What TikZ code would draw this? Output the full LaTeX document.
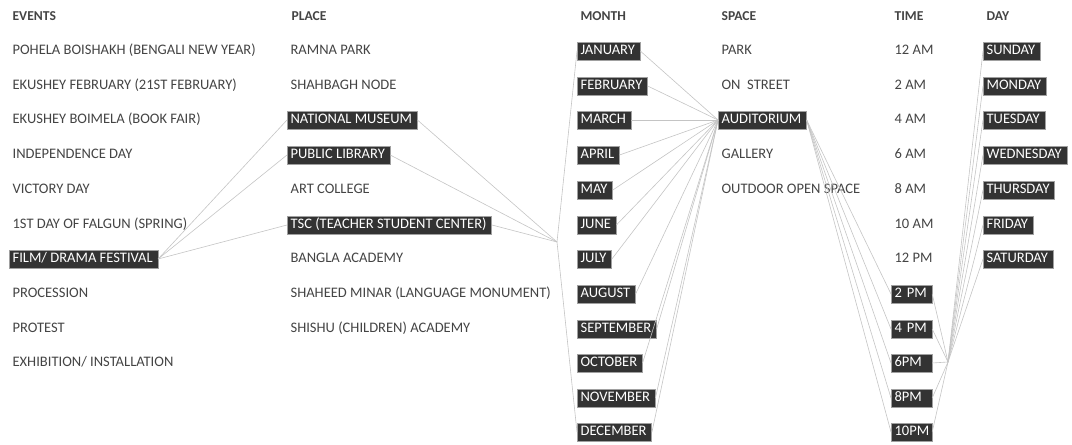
\documentclass[tikz,border=0pt]{standalone}
\usepackage{fontspec}
\setmainfont{Carlito}
\usepackage{tikz}
\definecolor{ink}{HTML}{444444}
\definecolor{boxfill}{HTML}{333333}
\definecolor{boxline}{HTML}{A0A0A0}
\definecolor{wire}{HTML}{C4C4C4}
\tikzset{
  item/.style={anchor=west,inner xsep=2.5pt,inner ysep=2.5pt,text height=7pt,text depth=1.5pt,text=ink,font=\fontsize{10.9}{12}\selectfont},
  pick/.style={item,fill=boxfill,draw=boxline,line width=0.4pt,text=white,execute at end node=\hspace{1.3pt}},
  slot/.style={pick,text width=25.5pt},
  head/.style={anchor=west,inner xsep=2.5pt,text=ink,font=\fontsize{10.2}{12}\selectfont\bfseries},
  wire/.style={draw=wire,line width=0.45pt}
}
\begin{document}
\begin{tikzpicture}[x=0.75pt,y=-0.75pt]
  \useasboundingbox (0,0) rectangle (1072,445);
  \node[head] (hEvents) at (9,16) {EVENTS};
  \node[head] (hPlace) at (288,16) {PLACE};
  \node[head] (hMonth) at (577,16) {MONTH};
  \node[head] (hSpace) at (718,16) {SPACE};
  \node[head] (hTime) at (891,16) {TIME};
  \node[head] (hDay) at (983,16) {DAY};
  \node[item] (boishakh) at (9,51) {POHELA BOISHAKH (BENGALI NEW YEAR)};
  \node[item] (ekushey) at (9,86) {EKUSHEY FEBRUARY (21ST FEBRUARY)};
  \node[item] (boimela) at (9,120) {EKUSHEY BOIMELA (BOOK FAIR)};
  \node[item] (independence) at (9,155) {INDEPENDENCE DAY};
  \node[item] (victory) at (9,190) {VICTORY DAY};
  \node[item] (falgun) at (9,225) {1ST DAY OF FALGUN (SPRING)};
  \node[pick] (film) at (9,259) {FILM/ DRAMA FESTIVAL};
  \node[item] (procession) at (9,294) {PROCESSION};
  \node[item] (protest) at (9,329) {PROTEST};
  \node[item] (exhibition) at (9,363) {EXHIBITION/ INSTALLATION};
  \node[item] (ramna) at (287,51) {RAMNA PARK};
  \node[item] (shahbagh) at (287,86) {SHAHBAGH NODE};
  \node[pick] (museum) at (287,120) {NATIONAL MUSEUM};
  \node[pick] (library) at (287,155) {PUBLIC LIBRARY};
  \node[item] (artcollege) at (287,190) {ART COLLEGE};
  \node[pick] (tsc) at (287,225) {TSC (TEACHER STUDENT CENTER)};
  \node[item] (bangla) at (287,259) {BANGLA ACADEMY};
  \node[item] (minar) at (287,294) {SHAHEED MINAR (LANGUAGE MONUMENT)};
  \node[item] (shishu) at (287,329) {SHISHU (CHILDREN) ACADEMY};
  \node[pick] (jan) at (577,51) {JANUARY};
  \node[pick] (feb) at (577,86) {FEBRUARY};
  \node[pick] (mar) at (577,120) {MARCH};
  \node[pick] (apr) at (577,155) {APRIL};
  \node[pick] (may) at (577,190) {MAY};
  \node[pick] (jun) at (577,225) {JUNE};
  \node[pick] (jul) at (577,259) {JULY};
  \node[pick] (aug) at (577,294) {AUGUST};
  \node[pick] (sep) at (577,329) {SEPTEMBER};
  \node[pick] (oct) at (577,363) {OCTOBER};
  \node[pick] (nov) at (577,398) {NOVEMBER};
  \node[pick] (dec) at (577,432) {DECEMBER};
  \node[item] (park) at (718,51) {PARK};
  \node[item] (street) at (718,86) {ON\ \ STREET};
  \node[pick] (aud) at (718,120) {AUDITORIUM};
  \node[item] (gallery) at (718,155) {GALLERY};
  \node[item] (outdoor) at (718,190) {OUTDOOR OPEN SPACE};
  \node[item] (am12) at (891,51) {12 AM};
  \node[item] (am2) at (891,86) {2 AM};
  \node[item] (am4) at (891,120) {4 AM};
  \node[item] (am6) at (891,155) {6 AM};
  \node[item] (am8) at (891,190) {8 AM};
  \node[item] (am10) at (891,225) {10 AM};
  \node[item] (pm12) at (891,259) {12 PM};
  \node[slot] (pm2) at (891,294) {2 PM};
  \node[slot] (pm4) at (891,329) {4 PM};
  \node[slot] (pm6) at (891,363) {6PM};
  \node[slot] (pm8) at (891,398) {8PM};
  \node[slot] (pm10) at (891,432) {10PM};
  \node[pick] (sun) at (983,51) {SUNDAY};
  \node[pick] (mon) at (983,86) {MONDAY};
  \node[pick] (tue) at (983,120) {TUESDAY};
  \node[pick] (wed) at (983,155) {WEDNESDAY};
  \node[pick] (thu) at (983,190) {THURSDAY};
  \node[pick] (fri) at (983,225) {FRIDAY};
  \node[pick] (sat) at (983,259) {SATURDAY};
  \coordinate (hubMonth) at (557,242);
  \coordinate (hubDay) at (948,362);
  \draw[wire] (film.east) -- (museum.west);
  \draw[wire] (film.east) -- (library.west);
  \draw[wire] (film.east) -- (tsc.west);
  \draw[wire] (museum.east) -- (hubMonth);
  \draw[wire] (library.east) -- (hubMonth);
  \draw[wire] (tsc.east) -- (hubMonth);
  \draw[wire] (hubMonth) -- (jan.west);
  \draw[wire] (hubMonth) -- (dec.west);
  \draw[wire] (jan.east) -- (aud.west);
  \draw[wire] (feb.east) -- (aud.west);
  \draw[wire] (mar.east) -- (aud.west);
  \draw[wire] (apr.east) -- (aud.west);
  \draw[wire] (may.east) -- (aud.west);
  \draw[wire] (jun.east) -- (aud.west);
  \draw[wire] (jul.east) -- (aud.west);
  \draw[wire] (aug.east) -- (aud.west);
  \draw[wire] (sep.east) -- (aud.west);
  \draw[wire] (oct.east) -- (aud.west);
  \draw[wire] (nov.east) -- (aud.west);
  \draw[wire] (dec.east) -- (aud.west);
  \draw[wire] (aud.east) -- (pm2.west);
  \draw[wire] (aud.east) -- (pm4.west);
  \draw[wire] (aud.east) -- (pm6.west);
  \draw[wire] (aud.east) -- (pm8.west);
  \draw[wire] (aud.east) -- (pm10.west);
  \draw[wire] (pm2.east) -- (hubDay);
  \draw[wire] (pm4.east) -- (hubDay);
  \draw[wire] (pm6.east) -- (hubDay);
  \draw[wire] (pm8.east) -- (hubDay);
  \draw[wire] (pm10.east) -- (hubDay);
  \draw[wire] (hubDay) -- (sun.west);
  \draw[wire] (hubDay) -- (mon.west);
  \draw[wire] (hubDay) -- (tue.west);
  \draw[wire] (hubDay) -- (wed.west);
  \draw[wire] (hubDay) -- (thu.west);
  \draw[wire] (hubDay) -- (fri.west);
  \draw[wire] (hubDay) -- (sat.west);
\end{tikzpicture}
\end{document}
